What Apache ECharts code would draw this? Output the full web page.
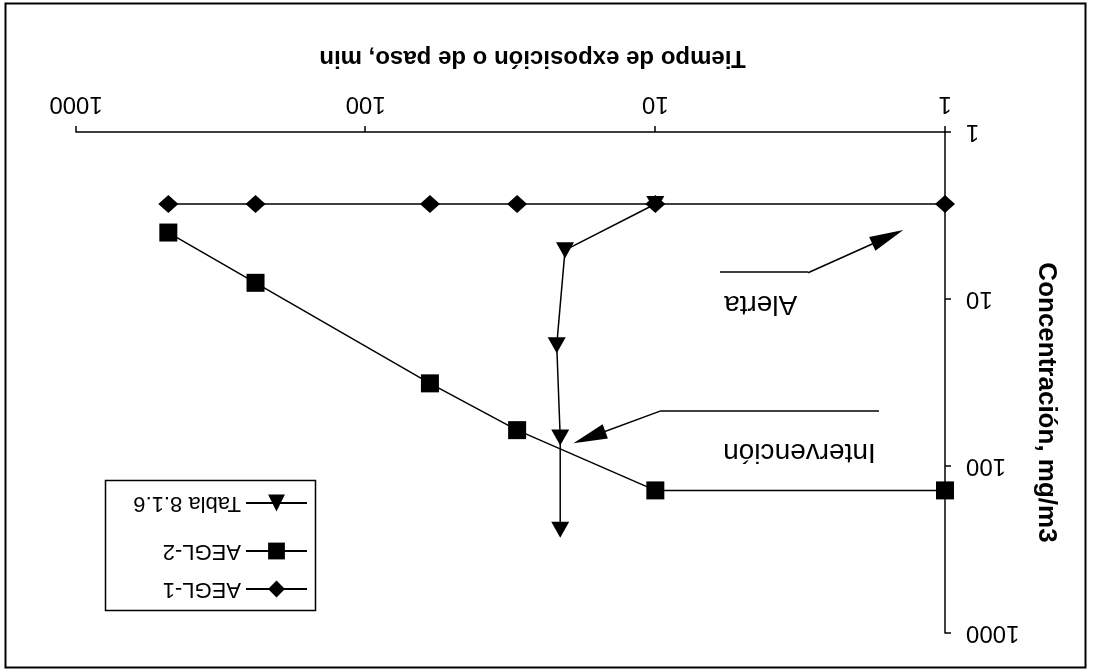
<!DOCTYPE html>
<html>
<head>
<meta charset="utf-8">
<title>AEGL</title>
<script src="https://cdn.jsdelivr.net/npm/echarts@6/dist/echarts.min.js"></script>
<style>
  html, body { margin: 0; padding: 0; background: #fff; }
  /* the scanned figure is upside down, so the whole chart is turned */
  #chart { width: 1096px; height: 672px; transform: rotate(180deg); }
</style>
</head>
<body>
<div id="chart"></div>
<script>
// tiempo de exposición (min) y concentración (mg/m3)
const timesAegl = [1, 10, 30, 60, 240, 480];
const aegl1 = [2.7, 2.7, 2.7, 2.7, 2.7, 2.7];
const aegl2 = [140, 140, 61, 32, 8, 4];
const timesTabla = [10, 20.5, 21.9, 21.3, 21.3];
const tabla = [2.7, 5.1, 18.9, 67.5, 241];
const axisTicks = [1, 10, 100, 1000];

// notas con flecha (en unidades de los ejes)
const notes = [
  { text: 'Alerta', at: [4.33, 10.6], path: [[5.98, 6.96], [2.97, 6.96], [1.576, 4.25]] },
  { text: 'Intervención', at: [3.18, 82.5], path: [[1.69, 46.9], [9.63, 46.9], [16.9, 67.3]] }
];

const font = 'Liberation Sans, Arial, sans-serif';
const arrowPath = 'path://M8,0 L16,34 L0,34 Z';

function pairs(xs, ys) {
  return xs.map((x, i) => [x, ys[i]]);
}

function buildArrows() {
  let out = [];
  notes.forEach(n => {
    for (let i = 0; i < n.path.length - 1; i++) {
      let last = i === n.path.length - 2;
      out.push([
        { coord: n.path[i], symbol: 'none' },
        { coord: n.path[i + 1], symbol: last ? arrowPath : 'none', symbolSize: last ? [15, 34] : 0 }
      ]);
    }
  });
  return out;
}

const chart = echarts.init(document.getElementById('chart'));

function axis(name, extra) {
  return Object.assign({
    type: 'log',
    logBase: 10,
    min: axisTicks[0],
    max: axisTicks[axisTicks.length - 1],
    name: name,
    nameLocation: 'middle',
    axisLine: { show: true, lineStyle: { color: '#000', width: 1.5 } },
    axisTick: { show: true, inside: false, length: 6, lineStyle: { color: '#000', width: 1.5 } },
    minorTick: { show: false },
    splitLine: { show: false }
  }, extra);
}

// sin separador de miles, como en la figura
const label = margin => ({ color: '#000', fontSize: 24, fontFamily: font, margin: margin, formatter: v => String(v) });

const lineSeries = (name, data, symbol, size) => ({
  name: name,
  type: 'line',
  data: data,
  symbol: symbol,
  symbolSize: size,
  lineStyle: { color: '#000', width: 1.5 },
  itemStyle: { color: '#000' },
  z: 3
});

let tablaSeries = lineSeries('Tabla 8.1.6', pairs(timesTabla, tabla), 'triangle', [18, 16]);
tablaSeries.markLine = {
  silent: true,
  symbol: ['none', 'none'],
  label: { show: false },
  lineStyle: { color: '#000', width: 1.5, type: 'solid' },
  data: buildArrows()
};
tablaSeries.markPoint = {
  silent: true,
  symbolSize: 0,
  label: { show: true, position: 'inside', formatter: '{b}', color: '#000', fontSize: 28, fontFamily: font },
  data: notes.map(n => ({ name: n.text, coord: n.at }))
};

const legendBase = {
  left: 788,
  orient: 'vertical',
  padding: 0,
  itemWidth: 61,
  itemHeight: 21,
  textStyle: { color: '#000', fontSize: 22, fontFamily: font }
};

chart.setOption({
  animation: false,
  backgroundColor: '#fff',
  grid: { left: 151, right: 76, top: 39, bottom: 132 },
  xAxis: axis('Tiempo de exposición o de paso, min', {
    nameGap: 62,
    nameTextStyle: { color: '#000', fontSize: 24, fontWeight: 'bold', fontFamily: font, padding: [0, 44, 0, 0] },
    axisLabel: label(16)
  }),
  yAxis: axis('Concentración, mg/m3', {
    nameGap: 88,
    nameTextStyle: { color: '#000', fontSize: 26, fontWeight: 'bold', fontFamily: font, padding: [0, 0, 0, 40] },
    axisLabel: label(21)
  }),
  legend: [
    Object.assign({ top: 72, data: ['AEGL-1'] }, legendBase),
    Object.assign({ top: 110, data: ['AEGL-2'] }, legendBase),
    Object.assign({ top: 158, data: ['Tabla 8.1.6'] }, legendBase)
  ],
  graphic: [
    { type: 'rect', left: 8, top: 2, shape: { width: 1080, height: 664 }, style: { fill: 'none', stroke: '#000', lineWidth: 2 }, silent: true },
    { type: 'rect', left: 778, top: 59, shape: { width: 210, height: 130 }, style: { fill: 'none', stroke: '#000', lineWidth: 1.5 }, silent: true }
  ],
  series: [
    lineSeries('AEGL-1', pairs(timesAegl, aegl1), 'diamond', [20, 18]),
    lineSeries('AEGL-2', pairs(timesAegl, aegl2), 'rect', 18),
    tablaSeries
  ]
});
</script>
</body>
</html>
